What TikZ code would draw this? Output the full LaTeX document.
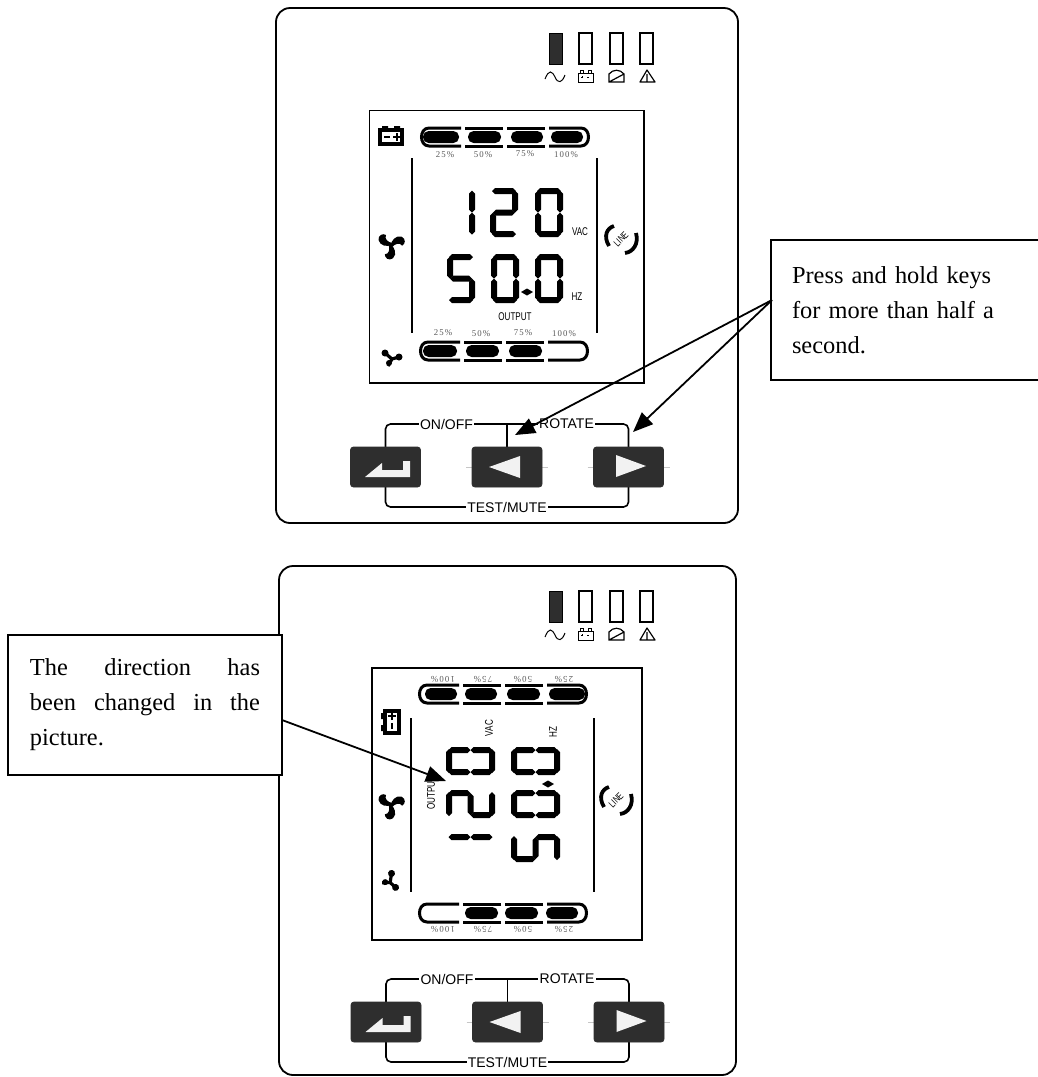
\documentclass[tikz,border=0pt]{standalone}
\usepackage{fontspec}
\setmainfont{Liberation Serif}
\newfontfamily\keyfont{Liberation Sans}
\newfontfamily\lcdsans[FakeStretch=0.72]{Liberation Sans}
\newfontfamily\lcdserif[LetterSpace=12]{Liberation Serif}
\usetikzlibrary{arrows.meta}
\newcommand{\segA}{\fill (2,3)--(5,0)--(23,0)--(26,3)--(23,6)--(5,6)--cycle;}
\newcommand{\segB}{\fill (25,2.5)--(28,5.5)--(28,21.5)--(25,24.5)--(22,21.5)--(22,5.5)--cycle;}
\newcommand{\segC}{\fill (25,24.5)--(28,27.5)--(28,43.5)--(25,46.5)--(22,43.5)--(22,27.5)--cycle;}
\newcommand{\segD}{\fill (2,46)--(5,43)--(23,43)--(26,46)--(23,49)--(5,49)--cycle;}
\newcommand{\segE}{\fill (3,24.5)--(6,27.5)--(6,43.5)--(3,46.5)--(0,43.5)--(0,27.5)--cycle;}
\newcommand{\segF}{\fill (3,2.5)--(6,5.5)--(6,21.5)--(3,24.5)--(0,21.5)--(0,5.5)--cycle;}
\newcommand{\segG}{\fill (3,24.5)--(6,21.5)--(22,21.5)--(25,24.5)--(22,27.5)--(6,27.5)--cycle;}
\tikzset{
  lcd zero/.pic={\segA\segB\segC\segD\segE\segF},
  lcd one/.pic={\segB\segC},
  lcd two/.pic={\segA\segB\segD\segE\segG},
  lcd five/.pic={\segA\segC\segD\segF\segG},
  lcd bar/.pic={
    \draw[line width=1.5pt] (42,1)--(10,1) .. controls (0,1) and (0,19) .. (10,19)--(42,19);
    \draw[line width=1.5pt] (46,1)--(84,1) (46,19)--(84,19) (88,1)--(126,1) (88,19)--(126,19);
    \draw[line width=1.5pt] (130,1)--(162,1) .. controls (172,1) and (172,19) .. (162,19)--(130,19);
    \foreach \a/\b in {#1}
      \fill[rounded corners=2.8pt] (\a,4) rectangle (\b,16);
  },
  lcd batt/.pic={
    \draw[line width=1.7pt] (-11,-6) rectangle (11,8);
    \fill (-9,-10) rectangle (-3,-6) (3,-10) rectangle (9,-6);
    \draw[line width=1pt] (-7,1)--(-1,1) (2,1)--(9,1) (6,-3)--(6,5);
  },
  lcd fan/.pic={
    \foreach \a in {90,210,330}
      \fill[rotate=\a] (0,1) .. controls (-2,-4) and (-1,-11) .. (5,-12.5) .. controls (10,-13) and (12,-8) .. (10,-5) .. controls (6,-7) and (3,-3) .. (2,1)--cycle;
  },
  lcd fan low/.pic={
    \fill (-7,-5) circle[radius=3.5] (7,-1) circle[radius=3.5] (-3,5) circle[radius=3];
    \draw[line width=1.6pt] (-7,-5)--(0,1)--(7,-1) (0,1)--(-4,8);
  },
  lcd line/.pic={
    \draw[line width=1.9pt] (-7,-13) .. controls (-14,-11) and (-18,-3) .. (-12,7);
    \draw[line width=1.9pt] (15,-6) .. controls (18,5) and (12,13) .. (4,14);
    \node[rotate=45,inner sep=0pt,font=\lcdsans\fontsize{5}{6}\selectfont] (-word) at (0,0) {LINE};
  },
  lamp row/.pic={
    \fill[black!82] (0,0) rectangle (13,31);
    \draw[line width=0.5pt] (0,0) rectangle (13,31);
    \foreach \lx in {30,61,91}
      \draw[line width=0.8pt] (\lx,0) rectangle (\lx+13,31);
    \draw[line width=0.5pt] (-4,46) .. controls (0,36) and (3,38) .. (6,44) .. controls (9,51) and (13,50) .. (16,42);
    \draw[line width=0.5pt] (29,40) rectangle (44,49) (31,40)--(31,37)--(34,37)--(34,40) (39,40)--(39,37)--(42,37)--(42,40);
    \draw[line width=0.5pt] (32,44)--(34,44) (33,43)--(33,45) (38,44)--(40,44);
    \draw[line width=0.6pt] (60,49)--(60,41) .. controls (64,36) and (71,36) .. (75,41)--(75,49)--cycle (60,49)--(75,41);
    \draw[line width=0.6pt,line join=round] (98,37)--(91,49)--(106,49)--cycle (98,41)--(98,49);
  },
  key row/.pic={
    \draw[keyline] (0,0)--(0,-43)--(243,-43)--(243,0);
    \draw[keyline] (121.5,0)--(121.5,-43);
    \draw[keyline] (0,0)--(0,40)--(243,40)--(243,0);
    \foreach \kx in {121.5,243}
      \draw[gray!45,line width=0.2pt] (\kx-41,0)--(\kx+41,0);
    \node[keybox] (-enter) at (0,0) {};
    \node[keybox] (-back) at (121.5,0) {};
    \node[keybox] (-next) at (243,0) {};
    \fill[gray!10] (-20.5,10)--(-3.5,-4)--(-3.5,3)--(17.5,3)--(17.5,-6)--(24.5,-6)--(24.5,10)--cycle;
    \fill[gray!10] (103.5,0)--(134.5,-11)--(134.5,11)--cycle;
    \fill[gray!10] (230.5,-12)--(230.5,10)--(260.5,-1)--cycle;
    \node[keylabel] (-onoff) at (61,-43) {ON/OFF};
    \node[keylabel] (-rotate) at (181,-43) {ROTATE};
    \node[keylabel] (-test) at (121.5,40) {TEST/MUTE};
  },
  keyline/.style={line width=0.8pt,rounded corners=2.5pt},
  keybox/.style={fill=black!82,draw=black!82,rounded corners=1.5pt,minimum width=35pt,minimum height=20pt,inner sep=0pt},
  keylabel/.style={fill=white,inner sep=0.6pt,font=\keyfont\fontsize{7}{8}\selectfont},
  pct/.style={text=black!65,inner sep=0pt,font=\lcdserif\fontsize{4.4}{5}\selectfont},
  unit/.style={inner sep=0pt,font=\lcdsans\fontsize{5.6}{6}\selectfont},
  callout/.style={draw,fill=white,line width=0.9pt,minimum height=70pt,inner ysep=0pt,font=\fontsize{12.2}{17.5}\selectfont},
  pointer/.style={-{Triangle[length=10pt,width=8pt]},line width=0.9pt}
}
\begin{document}
\begin{tikzpicture}[x=0.5pt,y=-0.5pt,line join=miter]
  \clip (0,0) rectangle (1038,1077);
  \fill[white] (0,0) rectangle (1038,1077);
  \draw[line width=0.9pt,rounded corners=7pt] (276,8) rectangle (738,523);
  \pic at (549,33) {lamp row};
  \draw[line width=0.9pt] (369.5,110.5) rectangle (644,383);
  \pic at (391,136) {lcd batt};
  \pic at (419,127) {lcd bar={4/40,49/82,92/124,132/164}};
  \foreach \pname/\ptext/\px/\py in {a/25/445/155,b/50/483/155,c/75/525/154,d/100/566/155}
    \node[pct] (uptop\pname) at (\px,\py) {\ptext\%};
  \draw[line width=1.1pt] (412,158)--(412,333) (597,158)--(597,333);
  \pic at (447,188) {lcd one};
  \pic at (490,188) {lcd two};
  \pic at (535,188) {lcd zero};
  \pic at (447,254) {lcd five};
  \pic at (491,254) {lcd zero};
  \fill (521,292)--(527,288.5)--(533,292)--(527,295.5)--cycle;
  \pic at (535,254) {lcd zero};
  \node[unit] (upvac) at (580,232) {VAC};
  \node[unit] (uphz) at (577,297) {HZ};
  \node[unit] (upout) at (515,317) {OUTPUT};
  \pic (upline) at (621,239) {lcd line};
  \pic at (391,245) {lcd fan};
  \pic at (392,358) {lcd fan low};
  \foreach \pname/\ptext/\px/\py in {a/25/443/333,b/50/481/334,c/75/523/333,d/100/564/334}
    \node[pct] (uplow\pname) at (\px,\py) {\ptext\%};
  \pic at (418,341) {lcd bar={5/39,48/81,91/124}};
  \pic (up) at (385.5,467) {key row};
  \node[callout,text width=114pt,inner xsep=10.5pt,minimum width=135pt,align=left] (press) at (906,310)
    {Press and hold keys\\for more than half a\\second.};
  \coordinate (pressport) at (772,300);
  \draw[pointer] (pressport)--(515,435);
  \draw[pointer] (pressport)--(633,432);
  \draw[line width=0.9pt,rounded corners=7pt] (279,566) rectangle (736,1075);
  \pic at (549,591) {lamp row};
  \draw[line width=0.9pt] (372,668) rectangle (642,940);
  \pic[xscale=-1] at (589,684) {lcd bar={4/40,49/82,92/124,132/164}};
  \foreach \pname/\ptext/\px in {a/100/443,b/75/483,c/50/523,d/25/564}
    \node[pct,rotate=180] (dntop\pname) at (\px,679) {\ptext\%};
  \pic[rotate=90] at (391,722) {lcd batt};
  \draw[line width=1.1pt] (411,718)--(411,892) (594,718)--(594,892);
  \pic[rotate=90] at (446,775) {lcd zero};
  \pic[rotate=90] at (446,818) {lcd two};
  \pic[rotate=90] at (446,862) {lcd one};
  \pic[rotate=90] at (511,775) {lcd zero};
  \pic[rotate=90] at (511,818) {lcd zero};
  \pic[rotate=90] at (511,862) {lcd five};
  \fill (542,784)--(548,780.5)--(554,784)--(548,787.5)--cycle;
  \node[unit,rotate=90] (dnvac) at (489,728) {VAC};
  \node[unit,rotate=90] (dnhz) at (553,732) {HZ};
  \node[unit,rotate=90] (dnout) at (431,793) {OUTPUT};
  \pic (dnline) at (616,800) {lcd line};
  \pic at (391,805) {lcd fan};
  \pic[rotate=-58] at (391,882) {lcd fan low};
  \pic[xscale=-1] at (589,903) {lcd bar={11/43,51/84,91/124}};
  \foreach \pname/\ptext/\px in {a/100/443,b/75/483,c/50/523,d/25/564}
    \node[pct,rotate=180] (dnlow\pname) at (\px,929) {\ptext\%};
  \pic (dn) at (386,1022) {key row};
  \node[callout,text width=115pt,inner xsep=11pt,minimum width=137pt,align=justify] (direction) at (145,705)
    {The\hfill direction\hfill has\\been\hfill changed\hfill in\hfill the\\picture.};
  \coordinate (directionport) at (282,720);
  \draw[pointer] (directionport)--(446,781);
\end{tikzpicture}
\end{document}
